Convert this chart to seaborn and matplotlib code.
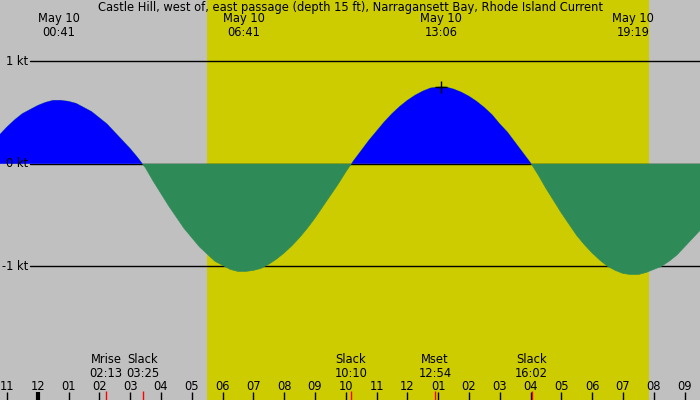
import matplotlib
matplotlib.use("Agg")
import matplotlib.pyplot as plt
import numpy as np
import pandas as pd
import seaborn as sns

# current speed (kt), hours from midnight May 10
hours = [-1.25, -1.0, -0.75, -0.5, -0.25, 0.0, 0.25, 0.5, 0.75, 1.0,
         1.25, 1.5, 1.75, 2.0, 2.25, 2.5, 2.75, 3.0, 3.25, 3.5,
         3.75, 4.0, 4.25, 4.5, 4.75, 5.0, 5.25, 5.5, 5.75, 6.0,
         6.25, 6.5, 6.75, 7.0, 7.25, 7.5, 7.75, 8.0, 8.25, 8.5,
         8.75, 9.0, 9.25, 9.5, 9.75, 10.0, 10.25, 10.5, 10.75, 11.0,
         11.25, 11.5, 11.75, 12.0, 12.25, 12.5, 12.75, 13.0, 13.25, 13.5,
         13.75, 14.0, 14.25, 14.5, 14.75, 15.0, 15.25, 15.5, 15.75, 16.0,
         16.25, 16.5, 16.75, 17.0, 17.25, 17.5, 17.75, 18.0, 18.25, 18.5,
         18.75, 19.0, 19.25, 19.5, 19.75, 20.0, 20.25, 20.5, 20.75, 21.0,
         21.25, 21.5]
speed = [0.28, 0.36, 0.43, 0.49, 0.53, 0.57, 0.60, 0.62, 0.62, 0.61,
         0.59, 0.55, 0.51, 0.45, 0.39, 0.31, 0.23, 0.15, 0.06, -0.04,
         -0.17, -0.29, -0.41, -0.52, -0.63, -0.72, -0.81, -0.88, -0.95, -0.99,
         -1.03, -1.05, -1.05, -1.04, -1.02, -0.98, -0.93, -0.87, -0.80, -0.72,
         -0.63, -0.53, -0.42, -0.31, -0.20, -0.08, 0.03, 0.13, 0.23, 0.32,
         0.41, 0.49, 0.56, 0.62, 0.67, 0.71, 0.74, 0.75, 0.75, 0.73,
         0.70, 0.66, 0.61, 0.55, 0.48, 0.39, 0.31, 0.21, 0.11, 0.01,
         -0.11, -0.24, -0.36, -0.48, -0.59, -0.70, -0.79, -0.87, -0.94, -1.00,
         -1.04, -1.07, -1.08, -1.08, -1.06, -1.03, -1.00, -0.95, -0.89, -0.81,
         -0.73, -0.65]

peak_times = [0.683, 6.683, 13.1, 19.317]
peak_labels = ["May 10\n00:41", "May 10\n06:41", "May 10\n13:06", "May 10\n19:19"]
max_flood_time, max_flood = 13.1, 0.75

event_times = [2.217, 3.417, 10.167, 12.9, 16.033]
event_labels = ["Mrise\n02:13", "Slack\n03:25", "Slack\n10:10", "Mset\n12:54", "Slack\n16:02"]

hour_ticks = list(range(-1, 22))
hour_labels = ["11", "12", "01", "02", "03", "04", "05", "06", "07", "08", "09", "10",
               "11", "12", "01", "02", "03", "04", "05", "06", "07", "08", "09"]

kt_levels = [1, 0, -1]
kt_labels = ["1 kt", "0 kt", "-1 kt"]

sunrise, sunset = 5.5, 19.85

title = "Castle Hill, west of, east passage (depth 15 ft), Narragansett Bay, Rhode Island Current"

sns.set_theme(style="white")
plt.rcParams["font.family"] = ["DejaVu Sans"]
plt.rcParams["text.color"] = "black"
FS = 8.3

df = pd.DataFrame({"hour": hours, "kt": speed})
y = np.array(speed)

fig = plt.figure(figsize=(7, 4), dpi=100)
ax = fig.add_axes([0, 0, 1, 1])
ax.set_xlim(-1.224, 21.5)
ax.set_ylim(-2.304, 1.598)
ax.axis("off")
ax.add_patch(plt.Rectangle((0, 0), 1, 1, transform=ax.transAxes, color="#c0c0c0", zorder=-2))

ax.axvspan(sunrise, sunset, color="#cccc00", lw=0, zorder=-1)

ytr = ax.get_yaxis_transform()
xtr = ax.get_xaxis_transform()

for lvl, lab in zip(kt_levels, kt_labels):
    ax.plot([30 / 700, 1], [lvl, lvl], color="black", lw=1, transform=ytr, zorder=1)
    ax.text(28 / 700, lvl, lab, ha="right", va="center", fontsize=FS, transform=ytr, zorder=4)

ax.fill_between(df["hour"], df["kt"], 0, where=y >= 0, interpolate=True,
                color="#0000ff", lw=0, zorder=2)
ax.fill_between(df["hour"], df["kt"], 0, where=y <= 0, interpolate=True,
                color="#2e8b57", lw=0, zorder=2)
sns.lineplot(data=df, x="hour", y="kt", ax=ax, color="#2e8b57", lw=0.4, zorder=1.5)

ax.plot([max_flood_time], [max_flood], marker="+", color="black", ms=8, mew=1, zorder=3)

ax.text(0.5, 1 - 7 / 400, title, ha="center", va="center", fontsize=FS, transform=ax.transAxes)
for t, lab in zip(peak_times, peak_labels):
    ax.text(t, 1 - 12 / 400, lab, ha="center", va="top", fontsize=FS,
            linespacing=1.15, transform=xtr)

for t, lab in zip(hour_ticks, hour_labels):
    ax.text(t, 14 / 400, lab, ha="center", va="center", fontsize=FS, transform=xtr)
    ax.plot([t, t], [0, 8 / 400], color="black", lw=3 if t == 0 else 1, transform=xtr,
            solid_capstyle="butt")

for t, lab in zip(event_times, event_labels):
    ax.text(t, 47 / 400, lab, ha="center", va="top", fontsize=FS,
            linespacing=1.1, transform=xtr)
    ax.plot([t, t], [0, 9 / 400], color="red", lw=1, transform=xtr, solid_capstyle="butt")

fig.savefig("out.png", dpi=100)
